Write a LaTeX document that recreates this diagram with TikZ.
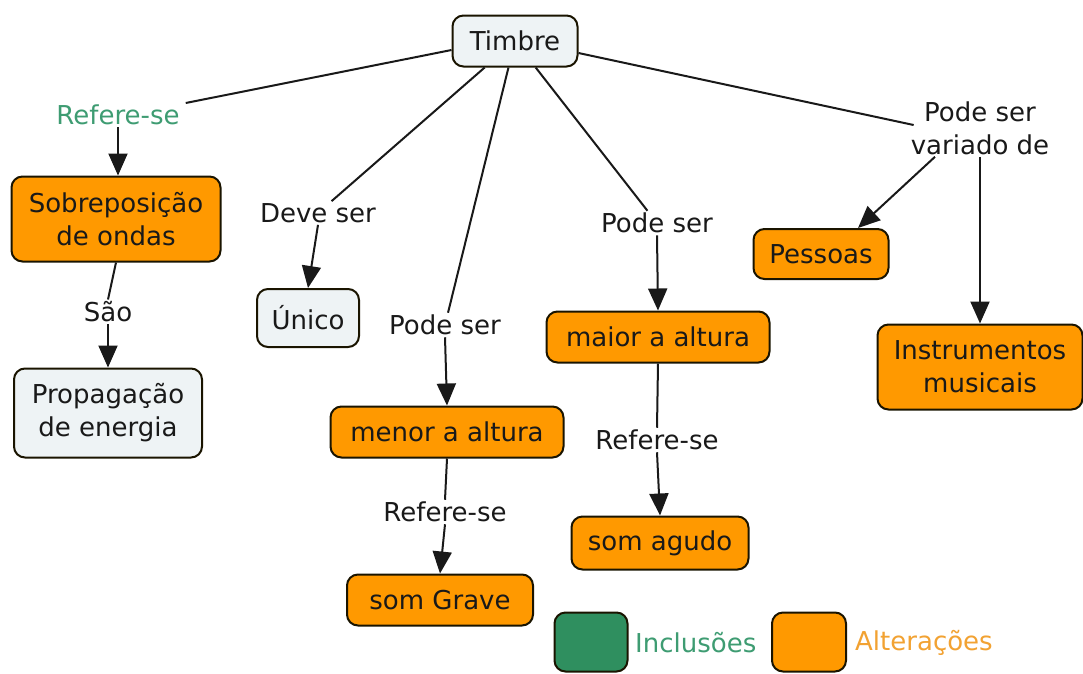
\documentclass[tikz,border=0pt]{standalone}
\usepackage{fontspec}
\setmainfont{DejaVu Sans}
\usetikzlibrary{arrows.meta,calc}
\definecolor{orng}{HTML}{FF9900}
\definecolor{pale}{HTML}{EEF3F5}
\definecolor{grn}{HTML}{2F8F5F}
\definecolor{grntxt}{HTML}{3E9C72}
\definecolor{orgtxt}{HTML}{F2A232}
\definecolor{edge}{HTML}{1A1400}
\tikzset{
  concept/.style={draw=edge, line width=2pt, rounded corners=11pt, align=center, inner sep=0pt, text=black!90},
  orangebox/.style={concept, fill=orng},
  palebox/.style={concept, fill=pale},
  lbl/.style={align=center, inner sep=2pt, text=black!90},
  link/.style={line width=2pt, draw=black!90},
  arr/.style={link, -{Triangle[length=22pt,width=19pt]}},
}
\begin{document}
\begin{tikzpicture}[x=1pt,y=-1pt, font=\fontsize{26}{33}\selectfont]
\useasboundingbox (0,0) rectangle (1083,673);
\fill[white] (0,0) rectangle (1083,673);

% concepts
\node[palebox, minimum width=125pt, minimum height=51pt] (timbre) at (515,41) {Timbre};
\node[orangebox, minimum width=209pt, minimum height=85pt] (sobre) at (116,219) {Sobreposição\\de ondas};
\node[palebox, minimum width=188pt, minimum height=89pt] (prop) at (108,413) {Propagação\\de energia};
\node[palebox, minimum width=102pt, minimum height=58pt] (unico) at (308,318) {Único};
\node[orangebox, minimum width=233pt, minimum height=51pt] (menor) at (447,432) {menor a altura};
\node[orangebox, minimum width=186pt, minimum height=51pt] (grave) at (440,600) {som Grave};
\node[orangebox, minimum width=223pt, minimum height=51pt] (maior) at (658,337) {maior a altura};
\node[orangebox, minimum width=177pt, minimum height=53pt] (agudo) at (660,543) {som agudo};
\node[orangebox, minimum width=135pt, minimum height=50pt] (pessoas) at (821,254) {Pessoas};
\node[orangebox, minimum width=205pt, minimum height=85pt] (instr) at (980,367) {Instrumentos\\musicais};

% linking phrases
\node[lbl, text=grntxt] (l1) at (118,115) {Refere-se};
\node[lbl] (l2) at (108,312) {São};
\node[lbl] (l3) at (318,213) {Deve ser};
\node[lbl] (l4) at (445,325) {Pode ser};
\node[lbl] (l5) at (445,512) {Refere-se};
\node[lbl] (l6) at (657,223) {Pode ser};
\node[lbl] (l7) at (657,440) {Refere-se};
\node[lbl] (l8) at (980,128) {Pode ser\\variado de};

% connectors
\coordinate (t1) at ($(timbre.west)+(0,9)$);
\coordinate (e1) at ($(l1.east)+(4,-12)$);
\draw[link] (t1) -- (e1);
\draw[arr] (l1.south) -- (sobre.north -| l1.south);
\draw[link] (sobre.south) -- (l2.north);
\draw[arr] (l2.south) -- (prop.north);
\draw[link] (timbre) -- (l3);
\draw[arr] (l3.south) -- (unico.north);
\draw[link] (timbre) -- (l4);
\draw[arr] (l4.south) -- (menor.north);
\draw[link] (menor.south) -- (l5.north);
\draw[arr] (l5.south) -- (grave.north);
\draw[link] (timbre) -- (l6);
\draw[arr] (l6.south) -- (maior.north);
\draw[link] (maior.south) -- (l7.north);
\draw[arr] (l7.south) -- (agudo.north);
\coordinate (t2) at ($(timbre.east)+(0,12)$);
\coordinate (e8) at ($(l8.west)+(5,-3)$);
\draw[link] (t2) -- (e8);
\coordinate (v1) at ($(l8.south)+(-45,0)$);
\coordinate (p1) at ($(pessoas.north)+(37,0)$);
\draw[arr] (v1) -- (p1);
\draw[arr] (l8.south) -- (instr.north);

% legend
\node[concept, fill=grn, minimum width=73pt, minimum height=59pt] (lg1) at (591,642) {};
\node[lbl, text=grntxt, anchor=west] (lt1) at (633,643) {Inclusões};
\node[concept, fill=orng, minimum width=74pt, minimum height=59pt] (lg2) at (809,642) {};
\node[lbl, text=orgtxt, anchor=west] (lt2) at (853,643) {Alterações};
\end{tikzpicture}
\end{document}
